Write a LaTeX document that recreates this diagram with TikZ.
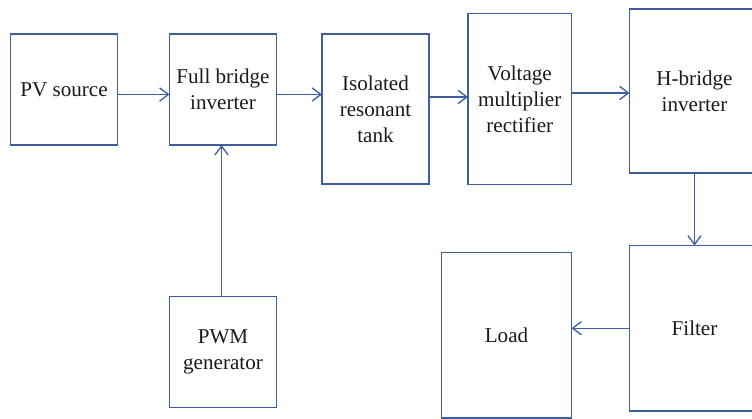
\documentclass[tikz,border=0pt]{standalone}
\usepackage{fontspec}
\setmainfont{Liberation Serif}
\usetikzlibrary{arrows.meta,positioning}
\definecolor{PvBlue}{HTML}{3F5E9E}
\definecolor{PvInk}{HTML}{1A1A1A}
\tikzset{
  pvblock/.style={
    draw=PvBlue,
    line width=0.75pt,
    minimum width=2.14cm,
    minimum height=2.22cm,
    outer sep=0pt,
    align=center,
    inner sep=2pt,
    text=PvInk,
    font=\fontsize{12}{14.7}\selectfont
  },
  pvtall/.style={
    pvblock,
    minimum width=2.6cm,
    minimum height=3.3cm
  },
  pvarrow/.style={-{Straight Barb[length=5pt,width=7.5pt]},line width=0.75pt,draw=PvBlue}
}
\begin{document}
\begin{tikzpicture}
  \clip (0,0) rectangle (15.04,-8.38);
  \useasboundingbox (0,0) rectangle (15.04,-8.38);
    \node[pvblock] (pv) at (1.28,-1.79) {PV source};
    \node[pvblock,right=1.04cm of pv] (fb) {Full bridge\\inverter};
    \node[pvblock,right=0.91cm of fb,yshift=-0.39cm,minimum height=3.0cm] (iso) {Isolated\\resonant\\tank};
    \node[pvblock,right=0.78cm of iso,yshift=0.2cm,minimum width=2.07cm,minimum height=3.41cm] (volt) {Voltage\\multiplier\\rectifier};
    \node[pvtall,right=1.16cm of volt,yshift=0.16cm,minimum height=3.28cm] (hb) {H-bridge\\inverter};
    \node[pvtall,below=1.45cm of hb,minimum height=3.31cm] (filt) {Filter};
    \node[pvtall,left=1.16cm of filt,yshift=-0.14cm,minimum height=3.31cm] (load) {Load};
    \node[pvblock,below=3.03cm of fb] (pwm) {PWM\\generator};
    \draw[pvarrow] ([yshift=-0.1cm]pv.east) -- ([yshift=-0.1cm]pv.east -| fb.west);
    \draw[pvarrow] ([yshift=-0.1cm]fb.east) -- ([yshift=-0.1cm]fb.east -| iso.west);
    \draw[pvarrow] ([yshift=0.24cm]iso.east) -- ([yshift=0.24cm]iso.east -| volt.west);
    \draw[pvarrow] ([yshift=0.12cm]volt.east) -- ([yshift=0.12cm]volt.east -| hb.west);
    \draw[pvarrow] (hb.south) -- (filt.north);
    \draw[pvarrow] (filt.west) -- (filt.west -| load.east);
    \draw[pvarrow] ([xshift=-0.03cm]pwm.north) -- ([xshift=-0.03cm]fb.south);
  \end{tikzpicture}
\end{document}
